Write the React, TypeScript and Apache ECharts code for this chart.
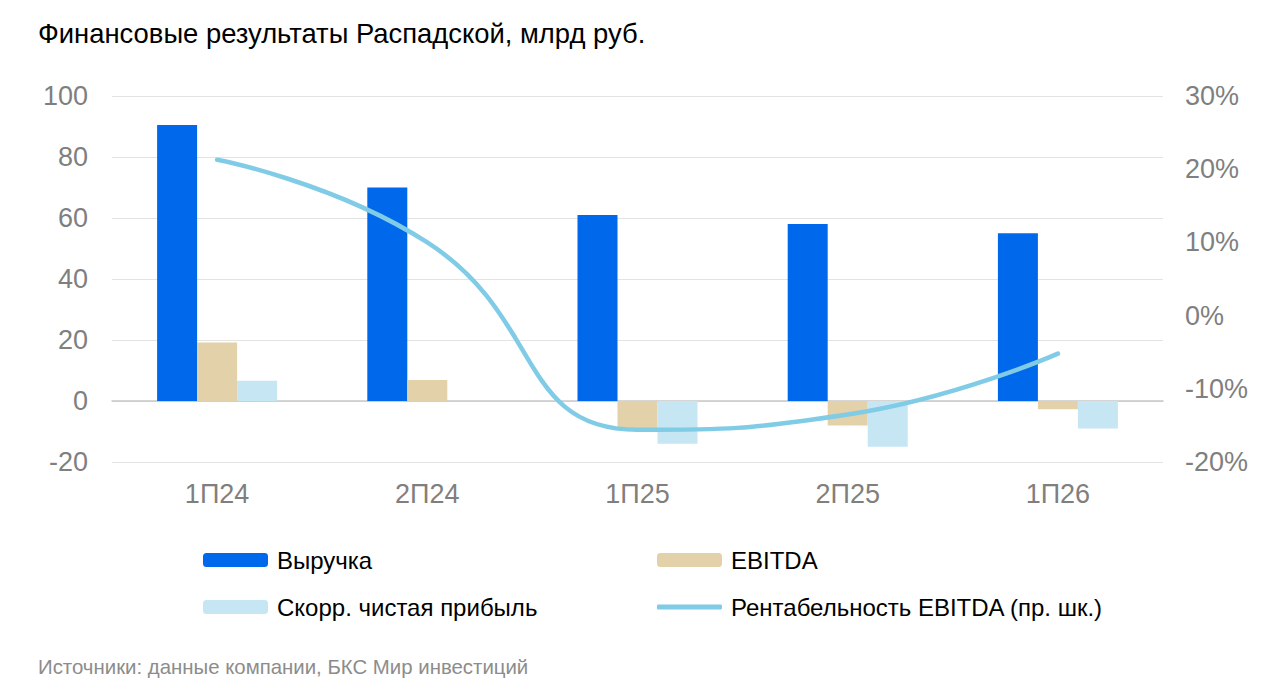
import React, { useEffect, useRef } from "react";
import * as echarts from "echarts";

const categories = ["1П24", "2П24", "1П25", "2П25", "1П26"];
const revenue = [90.5, 70, 61, 58, 55];
const ebitda = [19.2, 6.9, -9, -8, -2.7];
const netIncome = [6.6, 0, -14, -15, -9];
const ebitdaMargin = [21.3, 10, -15.6, -13.5, -5.2];
const leftTicks = { min: -20, max: 100, interval: 20 };
const rightTicks = { min: -20, max: 30, interval: 10 };

const FONT = "'Liberation Sans', Arial, sans-serif";
const C_REV = "#0068ea";
const C_EBITDA = "#e3d1a9";
const C_NI = "#c6e6f4";
const C_LINE = "#80cbe6";

export default function App() {
  const ref = useRef<HTMLDivElement>(null);
  useEffect(() => {
    if (!ref.current) return;
    const chart = echarts.init(ref.current, undefined, { renderer: "svg" });
    const legendBase = {
      orient: "horizontal",
      selectedMode: false,
      padding: 0,
      itemWidth: 65,
      itemHeight: 14,
      textStyle: { fontFamily: FONT, fontSize: 24, color: "#000", padding: [0, 0, 0, 4] },
    };
    chart.setOption({
      animation: false,
      backgroundColor: "#fff",
      textStyle: { fontFamily: FONT },
      grid: { left: 112, right: 117, top: 96, bottom: 232, containLabel: false },
      graphic: [
        {
          type: "text",
          left: 38,
          top: 20,
          style: {
            text: "Финансовые результаты Распадской, млрд руб.",
            font: `27.4px ${FONT}`,
            fill: "#000",
          },
        },
        {
          type: "text",
          left: 38,
          top: 657,
          style: {
            text: "Источники: данные компании, БКС Мир инвестиций",
            font: `20.4px ${FONT}`,
            fill: "#8c8c8c",
          },
        },
      ],
      legend: [
        { ...legendBase, left: 203, top: 548, data: ["Выручка"] },
        { ...legendBase, left: 657, top: 548, data: ["EBITDA"] },
        { ...legendBase, left: 203, top: 595, data: ["Скорр. чистая прибыль"] },
        {
          ...legendBase,
          left: 657,
          top: 595,
          itemHeight: 5,
          data: [{ name: "Рентабельность EBITDA (пр. шк.)", icon: "roundRect" }],
        },
      ],
      xAxis: {
        type: "category",
        data: categories,
        axisTick: { show: false },
        axisLine: { show: true, onZero: true, lineStyle: { color: "#c8c8c8", width: 1.5 } },
        axisLabel: {
          fontFamily: FONT,
          fontSize: 27,
          color: "#7f7f7f",
          margin: 18,
        },
      },
      yAxis: [
        {
          type: "value",
          min: leftTicks.min,
          max: leftTicks.max,
          interval: leftTicks.interval,
          axisLine: { show: false },
          axisTick: { show: false },
          splitLine: { lineStyle: { color: "#e3e3e3", width: 1 } },
          axisLabel: { fontFamily: FONT, fontSize: 27, color: "#7f7f7f", margin: 24 },
        },
        {
          type: "value",
          position: "right",
          min: rightTicks.min,
          max: rightTicks.max,
          interval: rightTicks.interval,
          axisLine: { show: false },
          axisTick: { show: false },
          splitLine: { show: false },
          axisLabel: {
            fontFamily: FONT,
            fontSize: 27,
            color: "#7f7f7f",
            margin: 22,
            formatter: "{value}%",
          },
        },
      ],
      series: [
        {
          name: "Выручка",
          type: "bar",
          data: revenue,
          barWidth: 40,
          barGap: "0%",
          itemStyle: { color: C_REV },
        },
        {
          name: "EBITDA",
          type: "bar",
          data: ebitda,
          barWidth: 40,
          barGap: "0%",
          itemStyle: { color: C_EBITDA },
        },
        {
          name: "Скорр. чистая прибыль",
          type: "bar",
          data: netIncome,
          barWidth: 40,
          barGap: "0%",
          itemStyle: { color: C_NI },
        },
        {
          name: "Рентабельность EBITDA (пр. шк.)",
          type: "line",
          yAxisIndex: 1,
          data: ebitdaMargin,
          smooth: 0.5,
          showSymbol: false,
          symbol: "none",
          lineStyle: { color: C_LINE, width: 4.5, cap: "round" },
          itemStyle: { color: C_LINE },
          z: 5,
        },
      ],
    });
    return () => chart.dispose();
  }, []);
  return (
    <div
      ref={ref}
      style={{ position: "fixed", left: 0, top: 0, width: 1280, height: 694, background: "#fff" }}
    />
  );
}
